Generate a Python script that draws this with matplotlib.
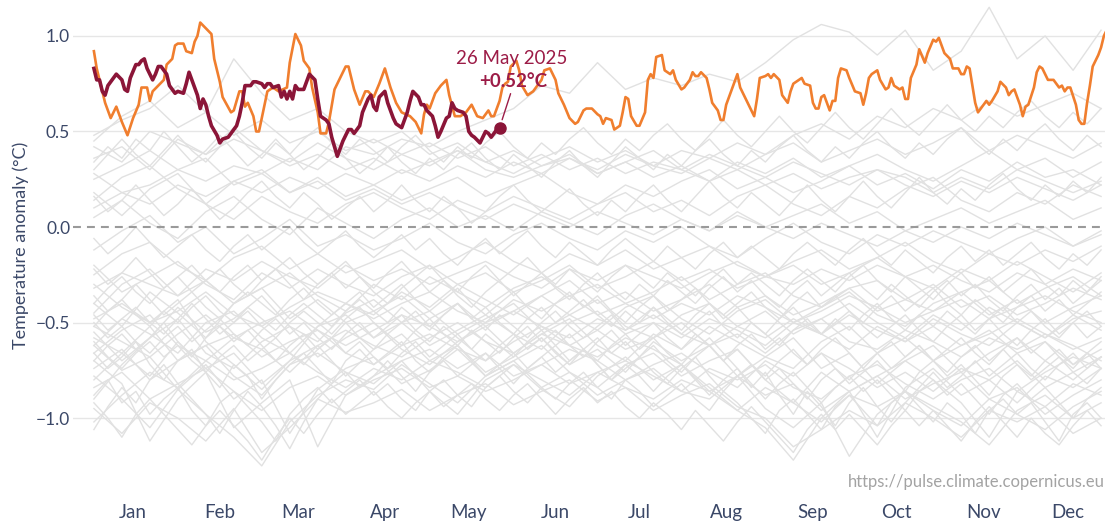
import matplotlib
matplotlib.use("Agg")
import matplotlib.pyplot as plt
import numpy as np

plt.rcParams["font.family"] = ["Lato", "DejaVu Sans"]

# Day-of-year positions (0 = 1 Jan) and labels for the month ticks
month_names = ["Jan", "Feb", "Mar", "Apr", "May", "Jun",
               "Jul", "Aug", "Sep", "Oct", "Nov", "Dec"]
month_mid_days = [14, 45, 73, 104, 134, 165, 195, 226, 257, 287, 318, 348]
y_ticks = [-1.0, -0.5, 0.0, 0.5, 1.0]

# Earlier years (grey spaghetti), estimated; each row spans 1 Jan .. 27 Dec evenly
# (37 values = every 10 days, 73 values = every 5 days)
hist_first_day = 0
hist_last_day = 360
hist_anoms = [
    [-0.95, -1.08, -0.92, -1.00, -1.12, -0.95, -1.18, -1.05, -0.90, -0.97,
     -0.92, -0.85, -0.96, -0.88, -0.82, -0.93, -0.86, -0.80, -0.91, -0.84,
     -0.96, -0.88, -0.82, -0.94, -1.00, -1.15, -1.06, -0.96, -1.04, -0.92,
     -1.00, -1.10, -0.96, -1.02, -0.94, -1.08, -1.00],
    [-0.78, -0.90, -1.05, -0.85, -0.98, -1.10, -1.25, -1.02, -0.88, -0.80,
     -0.85, -0.72, -0.82, -0.92, -0.78, -0.70, -0.84, -0.76, -0.88, -0.80,
     -0.74, -0.86, -0.90, -0.78, -0.95, -1.05, -0.92, -1.20, -0.98, -0.86,
     -0.94, -1.02, -1.14, -0.96, -0.88, -1.00, -0.92],
    [-0.70, -0.82, -1.12, -0.90, -0.76, -1.05, -0.92, -0.80, -1.15, -0.88,
     -0.78, -0.70, -0.86, -0.98, -0.80, -0.72, -0.85, -0.94, -0.78, -0.68,
     -0.80, -0.72, -0.86, -0.78, -0.88, -0.82, -0.96, -0.86, -0.78, -0.90,
     -0.82, -0.76, -0.90, -0.84, -0.98, -0.88, -0.80],
    [-0.62, -0.75, -0.68, -0.85, -0.72, -0.90, -0.80, -1.08, -0.85, -0.74,
     -0.68, -0.82, -0.75, -0.64, -0.78, -0.70, -0.62, -0.76, -0.84, -0.72,
     -0.66, -0.78, -0.70, -0.64, -0.80, -0.92, -0.76, -0.86, -1.10, -0.84,
     -0.74, -0.88, -0.80, -0.70, -0.84, -0.76, -0.68],
    [-0.80, -0.66, -0.78, -0.60, -0.74, -0.66, -0.82, -0.70, -0.62, -0.78,
     -0.64, -0.56, -0.70, -0.62, -0.76, -0.68, -0.58, -0.72, -0.64, -0.76,
     -0.60, -0.70, -0.62, -0.78, -0.68, -0.58, -0.74, -0.66, -0.82, -0.70,
     -0.62, -0.76, -0.66, -0.58, -0.70, -0.80, -0.68],
    [-0.55, -0.70, -0.58, -0.48, -0.66, -0.74, -0.60, -0.52, -0.68, -0.58,
     -0.50, -0.64, -0.72, -0.60, -0.52, -0.66, -0.56, -0.48, -0.62, -0.70,
     -0.56, -0.64, -0.52, -0.60, -0.68, -0.74, -0.60, -0.52, -0.66, -0.58,
     -0.70, -0.62, -0.54, -0.66, -0.60, -0.72, -0.64],
    [-0.62, -0.48, -0.56, -0.66, -0.50, -0.44, -0.58, -0.66, -0.52, -0.46,
     -0.58, -0.50, -0.62, -0.54, -0.46, -0.56, -0.64, -0.50, -0.44, -0.56,
     -0.50, -0.58, -0.48, -0.54, -0.62, -0.50, -0.56, -0.64, -0.52, -0.60,
     -0.48, -0.56, -0.62, -0.50, -0.58, -0.46, -0.54],
    [-0.90, -0.72, -0.58, -0.42, -0.55, -0.48, -0.36, -0.52, -0.60, -0.45,
     -0.38, -0.50, -0.44, -0.56, -0.48, -0.40, -0.54, -0.46, -0.38, -0.52,
     -0.58, -0.46, -0.40, -0.52, -0.44, -0.56, -0.48, -0.40, -0.50, -0.58,
     -0.46, -0.54, -0.42, -0.50, -0.58, -0.48, -0.44],
    [-0.40, -0.52, -0.34, -0.45, -0.58, -0.40, -0.32, -0.48, -0.38, -0.50,
     -0.44, -0.36, -0.48, -0.40, -0.52, -0.44, -0.36, -0.46, -0.54, -0.42,
     -0.36, -0.48, -0.56, -0.44, -0.38, -0.50, -0.42, -0.34, -0.46, -0.52,
     -0.40, -0.34, -0.46, -0.38, -0.50, -0.42, -0.36],
    [-0.30, -0.42, -0.50, -0.38, -0.60, -0.72, -0.85, -0.70, -0.52, -0.40,
     -0.46, -0.34, -0.42, -0.30, -0.38, -0.46, -0.36, -0.28, -0.40, -0.34,
     -0.44, -0.38, -0.30, -0.42, -0.36, -0.46, -0.40, -0.32, -0.44, -0.38,
     -0.30, -0.42, -0.36, -0.46, -0.40, -0.32, -0.38],
    [-0.45, -0.30, -0.22, -0.36, -0.28, -0.40, -0.32, -0.24, -0.36, -0.44,
     -0.30, -0.38, -0.26, -0.34, -0.42, -0.32, -0.26, -0.36, -0.30, -0.40,
     -0.34, -0.26, -0.38, -0.30, -0.24, -0.36, -0.42, -0.32, -0.28, -0.38,
     -0.44, -0.34, -0.28, -0.40, -0.32, -0.26, -0.36],
    [-0.20, -0.34, -0.26, -0.18, -0.30, -0.38, -0.24, -0.32, -0.22, -0.30,
     -0.36, -0.26, -0.20, -0.30, -0.24, -0.34, -0.28, -0.20, -0.32, -0.26,
     -0.18, -0.28, -0.22, -0.32, -0.26, -0.20, -0.30, -0.24, -0.16, -0.26,
     -0.32, -0.22, -0.28, -0.18, -0.26, -0.34, -0.24],
    [-0.25, -0.14, -0.08, -0.20, -0.28, -0.16, -0.10, -0.22, -0.14, -0.24,
     -0.18, -0.12, -0.22, -0.16, -0.08, -0.18, -0.24, -0.14, -0.20, -0.12,
     -0.22, -0.16, -0.10, -0.20, -0.26, -0.18, -0.12, -0.22, -0.16, -0.08,
     -0.18, -0.24, -0.14, -0.20, -0.12, -0.18, -0.10],
    [-0.12, -0.02, 0.06, -0.08, 0.00, -0.14, -0.06, 0.04, -0.10, -0.04,
     -0.12, -0.06, 0.02, -0.08, -0.14, -0.04, 0.02, -0.06, -0.12, -0.02,
     -0.08, 0.00, -0.10, -0.16, -0.06, 0.02, -0.08, -0.14, -0.04, -0.10,
     -0.02, -0.08, -0.14, -0.06, 0.00, -0.10, -0.04],
    [0.05, 0.14, 0.02, -0.06, 0.08, 0.16, 0.04, -0.04, 0.10, 0.02,
     -0.06, 0.04, 0.10, 0.00, 0.06, -0.02, 0.08, 0.02, -0.04, 0.06,
     0.12, 0.04, -0.02, 0.08, 0.00, 0.06, 0.12, 0.02, 0.08, -0.02,
     0.04, 0.10, 0.02, 0.08, 0.14, 0.04, 0.10],
    [0.18, 0.06, 0.20, 0.28, 0.12, 0.04, 0.16, 0.08, 0.02, 0.12,
     0.18, 0.10, 0.04, 0.14, 0.08, 0.16, 0.10, 0.04, 0.12, 0.18,
     0.08, 0.14, 0.06, 0.16, 0.22, 0.12, 0.06, 0.16, 0.10, 0.20,
     0.26, 0.14, 0.08, 0.18, 0.12, 0.22, 0.16],
    [0.14, 0.26, 0.32, 0.20, 0.12, 0.24, 0.30, 0.18, 0.26, 0.16,
     0.22, 0.14, 0.20, 0.26, 0.16, 0.22, 0.28, 0.18, 0.12, 0.22,
     0.16, 0.24, 0.30, 0.20, 0.26, 0.18, 0.24, 0.32, 0.22, 0.28,
     0.20, 0.30, 0.24, 0.34, 0.26, 0.30, 0.22],
    [0.36, 0.42, 0.30, 0.46, 0.38, 0.52, 0.40, 0.34, 0.44, 0.36,
     0.30, 0.38, 0.32, 0.40, 0.34, 0.28, 0.36, 0.42, 0.34, 0.40,
     0.32, 0.28, 0.36, 0.30, 0.38, 0.44, 0.34, 0.40, 0.46, 0.38,
     0.44, 0.52, 0.40, 0.48, 0.42, 0.36, 0.44],
    [0.45, 0.58, 0.66, 0.52, 0.60, 0.48, 0.56, 0.44, 0.50, 0.40,
     0.46, 0.38, 0.44, 0.36, 0.42, 0.32, 0.38, 0.30, 0.36, 0.28,
     0.34, 0.30, 0.38, 0.32, 0.26, 0.34, 0.28, 0.22, 0.30, 0.26,
     0.18, 0.26, 0.20, 0.30, 0.24, 0.18, 0.24],
    [0.48, 0.56, 0.62, 0.74, 0.60, 0.88, 0.70, 0.56, 0.62, 0.50,
     0.44, 0.50, 0.38, 0.44, 0.34, 0.40, 0.32, 0.36, 0.28, 0.34,
     0.26, 0.32, 0.24, 0.30, 0.22, 0.28, 0.20, 0.26, 0.30, 0.22,
     0.16, 0.24, 0.18, 0.26, 0.20, 0.14, 0.22],
    [0.28, 0.18, 0.22, 0.30, 0.24, 0.32, 0.28, 0.36, 0.30, 0.42,
     0.38, 0.46, 0.42, 0.50, 0.56, 0.62, 0.74, 0.70, 0.86, 0.72,
     0.78, 0.74, 0.80, 0.76, 0.86, 0.98, 1.06, 1.02, 0.90, 1.03,
     0.82, 0.92, 1.15, 0.88, 1.00, 0.82, 1.03],
    [0.42, 0.34, 0.50, 0.44, 0.38, 0.46, 0.40, 0.32, 0.38, 0.30,
     0.36, 0.28, 0.34, 0.40, 0.30, 0.26, 0.32, 0.38, 0.28, 0.34,
     0.40, 0.30, 0.24, 0.34, 0.28, 0.36, 0.26, 0.32, 0.38, 0.30,
     0.24, 0.32, 0.40, 0.30, 0.36, 0.26, 0.34],
    [-0.58, -0.66, -0.52, -0.70, -0.62, -0.56, -0.68, -0.60, -0.54, -0.66,
     -0.72, -0.62, -0.56, -0.64, -0.70, -0.60, -0.52, -0.62, -0.68, -0.58,
     -0.64, -0.72, -0.84, -0.96, -1.05, -1.22, -1.00, -0.86, -0.78, -0.70,
     -0.80, -0.92, -1.10, -0.86, -0.76, -0.68, -0.74],
    [-0.74, -0.64, -0.80, -0.70, -0.62, -0.78, -0.88, -0.72, -0.66, -0.76,
     -0.82, -0.70, -0.64, -0.74, -0.66, -0.78, -0.72, -0.64, -0.70, -0.80,
     -0.72, -0.66, -0.76, -0.84, -0.70, -0.78, -0.66, -0.74, -0.84, -0.76,
     -0.86, -0.74, -0.80, -0.92, -0.78, -0.84, -0.74],
    [-0.52, -0.60, -0.68, -0.56, -0.46, -0.58, -0.50, -0.44, -0.54, -0.62,
     -0.54, -0.46, -0.52, -0.60, -0.50, -0.44, -0.52, -0.58, -0.48, -0.54,
     -0.46, -0.56, -0.62, -0.52, -0.58, -0.48, -0.56, -0.46, -0.54, -0.60,
     -0.52, -0.62, -0.56, -0.48, -0.56, -0.64, -0.58],
    [-0.66, -0.54, -0.46, -0.62, -0.70, -0.58, -0.64, -0.76, -0.62, -0.54,
     -0.62, -0.68, -0.58, -0.50, -0.60, -0.66, -0.56, -0.62, -0.54, -0.64,
     -0.58, -0.50, -0.62, -0.56, -0.66, -0.54, -0.48, -0.60, -0.64, -0.54,
     -0.60, -0.68, -0.58, -0.64, -0.56, -0.62, -0.70],
    [-1.02, -0.88, -0.76, -0.84, -0.70, -0.80, -0.74, -0.66, -0.76, -0.84,
     -0.74, -0.80, -0.70, -0.76, -0.84, -0.72, -0.80, -0.88, -0.76, -0.70,
     -0.78, -0.86, -0.74, -0.80, -0.72, -0.84, -0.90, -0.78, -0.72, -0.82,
     -0.90, -0.80, -0.74, -0.86, -0.94, -0.82, -0.88],
    [-0.48, -0.40, -0.50, -0.44, -0.34, -0.46, -0.52, -0.42, -0.34, -0.40,
     -0.48, -0.40, -0.34, -0.44, -0.50, -0.38, -0.44, -0.36, -0.46, -0.40,
     -0.48, -0.40, -0.46, -0.36, -0.42, -0.50, -0.44, -0.36, -0.42, -0.50,
     -0.44, -0.38, -0.48, -0.42, -0.36, -0.44, -0.50],
    [-0.32, -0.24, -0.30, -0.36, -0.22, -0.28, -0.18, -0.26, -0.32, -0.20,
     -0.28, -0.22, -0.30, -0.24, -0.18, -0.26, -0.32, -0.22, -0.28, -0.20,
     -0.26, -0.32, -0.24, -0.18, -0.26, -0.30, -0.22, -0.28, -0.20, -0.26,
     -0.20, -0.28, -0.34, -0.24, -0.30, -0.22, -0.28],
    [0.25, 0.32, 0.40, 0.30, 0.36, 0.22, 0.28, 0.18, 0.24, 0.14,
     0.20, 0.12, 0.18, 0.10, 0.04, 0.12, 0.06, 0.00, 0.08, 0.02,
     -0.04, 0.04, -0.02, 0.06, 0.00, -0.06, 0.02, -0.04, -0.10, -0.02,
     -0.08, 0.00, -0.06, 0.02, -0.04, -0.10, -0.02],
    [-0.84, -0.76, -0.90, -0.82, -0.74, -0.86, -0.96, -0.84, -0.78, -0.88,
     -0.80, -0.74, -0.84, -0.78, -0.86, -0.80, -0.72, -0.82, -0.76, -0.84,
     -0.90, -0.80, -0.86, -0.96, -0.84, -0.92, -1.02, -0.88, -0.94, -0.86,
     -0.96, -1.04, -0.90, -0.98, -1.06, -0.94, -0.86],
    [0.10, 0.18, 0.12, 0.22, 0.16, 0.24, 0.18, 0.26, 0.20, 0.28,
     0.22, 0.30, 0.24, 0.32, 0.26, 0.34, 0.28, 0.36, 0.30, 0.38,
     0.32, 0.40, 0.36, 0.44, 0.38, 0.48, 0.54, 0.46, 0.58, 0.52,
     0.62, 0.56, 0.66, 0.58, 0.64, 0.70, 0.62],
    [-0.88, -0.80, -0.92, -0.86, -0.98, -0.90, -0.84, -0.96, -1.04, -0.92,
     -0.86, -0.94, -1.02, -1.12, -0.98, -0.90, -0.84, -0.92, -0.86, -0.80,
     -0.88, -0.82, -0.90, -0.96, -0.86, -0.80, -0.88, -0.94, -0.84, -0.78,
     -0.86, -0.92, -0.84, -0.90, -0.82, -0.76, -0.84, -0.90, -0.80, -0.86,
     -0.94, -0.88, -0.82, -0.90, -0.96, -0.86, -0.92, -1.00, -1.08, -0.96,
     -0.90, -0.98, -1.06, -0.94, -0.88, -0.96, -1.04, -0.92, -0.86, -0.94,
     -1.02, -0.92, -0.98, -1.08, -0.96, -0.90, -0.98, -0.92, -1.02, -1.12,
     -0.98, -0.92, -1.00],
    [-0.66, -0.74, -0.68, -0.60, -0.72, -0.80, -0.70, -0.64, -0.76, -0.84,
     -0.72, -0.78, -0.90, -0.80, -0.72, -0.66, -0.74, -0.82, -0.70, -0.64,
     -0.72, -0.66, -0.60, -0.70, -0.76, -0.68, -0.62, -0.70, -0.78, -0.72,
     -0.66, -0.74, -0.68, -0.62, -0.70, -0.64, -0.72, -0.80, -0.74, -0.68,
     -0.76, -0.82, -0.74, -0.68, -0.78, -0.86, -0.78, -0.72, -0.80, -0.74,
     -0.82, -0.90, -0.80, -0.74, -0.82, -0.76, -0.70, -0.78, -0.86, -0.76,
     -0.70, -0.78, -0.72, -0.80, -0.88, -0.78, -0.72, -0.80, -0.74, -0.68,
     -0.76, -0.82, -0.74],
    [-0.70, -0.62, -0.56, -0.64, -0.58, -0.50, -0.60, -0.68, -0.58, -0.52,
     -0.60, -0.54, -0.62, -0.70, -0.62, -0.56, -0.64, -0.58, -0.50, -0.58,
     -0.64, -0.56, -0.62, -0.54, -0.48, -0.56, -0.62, -0.54, -0.60, -0.66,
     -0.58, -0.52, -0.60, -0.54, -0.62, -0.68, -0.60, -0.54, -0.62, -0.56,
     -0.50, -0.58, -0.64, -0.56, -0.62, -0.70, -0.62, -0.56, -0.64, -0.58,
     -0.66, -0.72, -0.64, -0.58, -0.66, -0.74, -0.66, -0.60, -0.68, -0.62,
     -0.70, -0.64, -0.58, -0.66, -0.72, -0.64, -0.58, -0.66, -0.60, -0.68,
     -0.74, -0.66, -0.60],
    [-0.46, -0.54, -0.48, -0.42, -0.50, -0.56, -0.48, -0.40, -0.48, -0.56,
     -0.50, -0.44, -0.52, -0.58, -0.50, -0.44, -0.50, -0.56, -0.48, -0.42,
     -0.50, -0.56, -0.50, -0.44, -0.52, -0.46, -0.40, -0.48, -0.54, -0.46,
     -0.52, -0.58, -0.50, -0.44, -0.52, -0.58, -0.52, -0.46, -0.54, -0.48,
     -0.42, -0.50, -0.56, -0.50, -0.44, -0.52, -0.58, -0.50, -0.56, -0.62,
     -0.54, -0.48, -0.56, -0.50, -0.44, -0.52, -0.58, -0.52, -0.46, -0.54,
     -0.60, -0.52, -0.46, -0.54, -0.48, -0.56, -0.62, -0.54, -0.48, -0.56,
     -0.50, -0.58, -0.52],
    [-0.36, -0.44, -0.38, -0.30, -0.38, -0.46, -0.40, -0.34, -0.42, -0.48,
     -0.40, -0.34, -0.40, -0.46, -0.38, -0.32, -0.40, -0.46, -0.40, -0.34,
     -0.42, -0.36, -0.30, -0.38, -0.44, -0.38, -0.32, -0.40, -0.46, -0.40,
     -0.34, -0.42, -0.48, -0.40, -0.34, -0.42, -0.36, -0.44, -0.50, -0.42,
     -0.36, -0.44, -0.38, -0.32, -0.40, -0.46, -0.40, -0.34, -0.42, -0.48,
     -0.40, -0.34, -0.42, -0.36, -0.44, -0.50, -0.42, -0.36, -0.44, -0.38,
     -0.32, -0.40, -0.46, -0.38, -0.44, -0.50, -0.42, -0.36, -0.44, -0.38,
     -0.46, -0.40, -0.34],
    [-0.22, -0.30, -0.24, -0.16, -0.24, -0.32, -0.26, -0.20, -0.28, -0.34,
     -0.26, -0.20, -0.28, -0.22, -0.16, -0.24, -0.30, -0.24, -0.18, -0.26,
     -0.32, -0.24, -0.18, -0.26, -0.20, -0.28, -0.34, -0.26, -0.20, -0.28,
     -0.22, -0.16, -0.24, -0.30, -0.22, -0.28, -0.34, -0.26, -0.20, -0.26,
     -0.32, -0.24, -0.30, -0.36, -0.28, -0.22, -0.30, -0.24, -0.30, -0.36,
     -0.28, -0.22, -0.28, -0.34, -0.26, -0.20, -0.28, -0.34, -0.26, -0.32,
     -0.38, -0.30, -0.24, -0.32, -0.26, -0.34, -0.28, -0.22, -0.30, -0.36,
     -0.28, -0.34, -0.26],
    [-0.06, -0.14, -0.08, 0.00, -0.08, -0.16, -0.10, -0.04, -0.12, -0.18,
     -0.10, -0.04, -0.12, -0.06, 0.00, -0.08, -0.14, -0.08, -0.02, -0.10,
     -0.16, -0.10, -0.04, -0.12, -0.06, -0.14, -0.20, -0.12, -0.06, -0.14,
     -0.08, -0.02, -0.10, -0.16, -0.08, -0.14, -0.20, -0.12, -0.06, -0.12,
     -0.18, -0.10, -0.16, -0.22, -0.14, -0.08, -0.16, -0.10, -0.16, -0.22,
     -0.14, -0.08, -0.14, -0.20, -0.12, -0.06, -0.14, -0.20, -0.12, -0.18,
     -0.24, -0.16, -0.10, -0.18, -0.12, -0.20, -0.14, -0.08, -0.16, -0.22,
     -0.14, -0.20, -0.12],
    [0.16, 0.08, 0.14, 0.22, 0.14, 0.06, 0.12, 0.20, 0.12, 0.04,
     0.10, 0.18, 0.24, 0.16, 0.10, 0.18, 0.12, 0.04, 0.10, 0.16,
     0.08, 0.14, 0.22, 0.14, 0.08, 0.16, 0.10, 0.02, 0.08, 0.16,
     0.22, 0.14, 0.08, 0.14, 0.20, 0.12, 0.06, 0.14, 0.08, 0.16,
     0.22, 0.14, 0.08, 0.16, 0.24, 0.16, 0.10, 0.18, 0.12, 0.06,
     0.14, 0.22, 0.14, 0.08, 0.16, 0.24, 0.16, 0.10, 0.18, 0.26,
     0.18, 0.12, 0.20, 0.14, 0.22, 0.28, 0.20, 0.14, 0.22, 0.16,
     0.24, 0.18, 0.26],
    [0.34, 0.42, 0.36, 0.46, 0.40, 0.50, 0.42, 0.34, 0.40, 0.48,
     0.40, 0.32, 0.38, 0.46, 0.38, 0.30, 0.36, 0.44, 0.36, 0.28,
     0.34, 0.42, 0.34, 0.28, 0.36, 0.30, 0.38, 0.44, 0.36, 0.30,
     0.38, 0.32, 0.26, 0.34, 0.40, 0.32, 0.26, 0.34, 0.42, 0.36,
     0.30, 0.38, 0.32, 0.40, 0.46, 0.38, 0.32, 0.40, 0.34, 0.42,
     0.48, 0.40, 0.34, 0.42, 0.36, 0.44, 0.50, 0.42, 0.36, 0.44,
     0.38, 0.46, 0.52, 0.44, 0.38, 0.46, 0.40, 0.48, 0.54, 0.46,
     0.40, 0.48, 0.42],
    [-1.06, -0.94, -0.84, -0.92, -0.80, -0.72, -0.82, -0.90, -0.98, -1.08,
     -0.96, -0.86, -0.94, -1.04, -1.16, -1.02, -0.90, -0.82, -0.76, -0.84,
     -0.78, -0.70, -0.78, -0.86, -0.76, -0.70, -0.78, -0.72, -0.66, -0.74,
     -0.82, -0.74, -0.68, -0.76, -0.70, -0.64, -0.72, -0.80, -0.72, -0.78,
     -0.86, -0.78, -0.72, -0.80, -0.88, -0.80, -0.74, -0.82, -0.90, -0.82,
     -0.76, -0.84, -0.92, -0.84, -0.78, -0.86, -0.80, -0.88, -0.96, -0.86,
     -0.80, -0.88, -0.82, -0.90, -0.98, -0.88, -0.82, -0.90, -0.84, -0.92,
     -1.00, -0.90, -0.84],
    [-0.50, -0.58, -0.52, -0.60, -0.66, -0.58, -0.52, -0.60, -0.54, -0.48,
     -0.56, -0.62, -0.54, -0.48, -0.56, -0.50, -0.58, -0.64, -0.56, -0.50,
     -0.58, -0.52, -0.46, -0.54, -0.60, -0.52, -0.58, -0.64, -0.56, -0.62,
     -0.68, -0.60, -0.54, -0.62, -0.56, -0.64, -0.70, -0.62, -0.56, -0.64,
     -0.58, -0.66, -0.72, -0.64, -0.58, -0.66, -0.74, -0.84, -0.76, -0.88,
     -0.98, -0.86, -0.94, -1.04, -0.92, -0.84, -0.94, -1.02, -0.92, -0.84,
     -0.76, -0.84, -0.78, -0.70, -0.78, -0.72, -0.66, -0.74, -0.80, -0.72,
     -0.66, -0.74, -0.68],
    [-0.40, -0.32, -0.26, -0.34, -0.40, -0.32, -0.26, -0.34, -0.28, -0.22,
     -0.30, -0.36, -0.28, -0.22, -0.30, -0.38, -0.30, -0.24, -0.32, -0.26,
     -0.34, -0.40, -0.32, -0.26, -0.34, -0.28, -0.36, -0.42, -0.34, -0.28,
     -0.36, -0.30, -0.24, -0.32, -0.38, -0.30, -0.24, -0.32, -0.38, -0.30,
     -0.36, -0.28, -0.34, -0.40, -0.32, -0.26, -0.34, -0.28, -0.36, -0.42,
     -0.34, -0.28, -0.36, -0.30, -0.24, -0.32, -0.38, -0.30, -0.36, -0.42,
     -0.34, -0.28, -0.36, -0.30, -0.38, -0.44, -0.36, -0.30, -0.38, -0.32,
     -0.40, -0.34, -0.28],
    [0.30, 0.38, 0.46, 0.38, 0.32, 0.40, 0.48, 0.40, 0.34, 0.42,
     0.50, 0.42, 0.36, 0.44, 0.38, 0.46, 0.52, 0.44, 0.38, 0.46,
     0.40, 0.34, 0.42, 0.48, 0.40, 0.34, 0.42, 0.36, 0.44, 0.50,
     0.42, 0.36, 0.44, 0.38, 0.46, 0.52, 0.44, 0.38, 0.46, 0.40,
     0.48, 0.54, 0.46, 0.40, 0.48, 0.56, 0.48, 0.42, 0.50, 0.58,
     0.50, 0.44, 0.52, 0.60, 0.52, 0.46, 0.54, 0.62, 0.54, 0.48,
     0.56, 0.64, 0.56, 0.50, 0.58, 0.52, 0.60, 0.66, 0.58, 0.52,
     0.60, 0.54, 0.62],
    [-0.92, -1.00, -1.10, -0.98, -0.90, -0.98, -1.06, -1.14, -1.04, -0.96,
     -1.04, -1.12, -1.22, -1.10, -1.00, -1.08, -0.98, -0.90, -0.98, -0.92,
     -0.86, -0.94, -1.00, -0.92, -0.86, -0.94, -0.88, -0.82, -0.90, -0.96,
     -0.88, -0.82, -0.90, -0.98, -0.90, -0.84, -0.92, -0.86, -0.94, -1.00,
     -0.92, -0.98, -1.06, -0.96, -1.04, -1.12, -1.02, -0.94, -1.02, -1.10,
     -1.18, -1.06, -0.98, -1.06, -0.98, -1.06, -1.14, -1.04, -0.96, -1.04,
     -0.96, -1.04, -1.12, -1.02, -0.94, -1.02, -1.10, -1.00, -1.08, -1.14,
     -1.04, -0.96, -1.04],
    [-0.52, -0.44, -0.38, -0.46, -0.52, -0.44, -0.50, -0.42, -0.36, -0.44,
     -0.50, -0.42, -0.48, -0.54, -0.46, -0.40, -0.46, -0.52, -0.44, -0.38,
     -0.44, -0.50, -0.42, -0.48, -0.54, -0.46, -0.40, -0.48, -0.42, -0.50,
     -0.56, -0.48, -0.42, -0.50, -0.44, -0.38, -0.46, -0.52, -0.44, -0.50,
     -0.42, -0.48, -0.54, -0.46, -0.40, -0.48, -0.42, -0.50, -0.56, -0.48,
     -0.42, -0.50, -0.56, -0.48, -0.54, -0.46, -0.40, -0.48, -0.54, -0.46,
     -0.52, -0.44, -0.50, -0.56, -0.48, -0.42, -0.50, -0.44, -0.52, -0.58,
     -0.50, -0.44, -0.52],
    [-0.60, -0.68, -0.74, -0.66, -0.60, -0.68, -0.62, -0.70, -0.76, -0.68,
     -0.62, -0.70, -0.64, -0.58, -0.66, -0.72, -0.64, -0.58, -0.66, -0.60,
     -0.68, -0.74, -0.66, -0.60, -0.68, -0.62, -0.56, -0.64, -0.70, -0.62,
     -0.56, -0.64, -0.58, -0.66, -0.72, -0.64, -0.58, -0.66, -0.60, -0.68,
     -0.62, -0.70, -0.76, -0.68, -0.62, -0.70, -0.64, -0.72, -0.78, -0.70,
     -0.64, -0.72, -0.66, -0.74, -0.80, -0.72, -0.66, -0.74, -0.68, -0.62,
     -0.70, -0.76, -0.68, -0.62, -0.70, -0.64, -0.72, -0.78, -0.70, -0.64,
     -0.72, -0.66, -0.74],
]

# 2024 (orange)
days_2024 = [
    0, 1, 3, 4, 6, 8, 10, 12, 14, 16, 17, 19, 20, 21, 23, 25, 26, 28, 29, 30,
    32, 33, 35, 36, 37, 38, 40, 42, 43, 45, 46, 49, 50, 52, 53, 54, 55, 57, 58, 59,
    61, 62, 64, 66, 69, 70, 72, 74, 75, 77, 78, 80, 81, 83, 84, 86, 88, 90, 91, 93,
    95, 97, 98, 100, 102, 104, 106, 108, 110, 113, 115, 117, 118, 119, 120, 122, 124, 126, 127, 129,
    131, 133, 135, 137, 139, 141, 142, 143, 145, 146, 147, 148, 149, 151, 152, 153, 155, 157, 158, 160,
    161, 163, 165, 166, 168, 170, 172, 173, 175, 176, 178, 180, 181, 182, 183, 185, 186, 188, 189, 190,
    191, 192, 194, 195, 197, 198, 199, 200, 201, 203, 204, 206, 207, 208, 210, 211, 213, 214, 215, 216,
    217, 219, 220, 221, 223, 224, 225, 226, 228, 230, 231, 233, 235, 236, 237, 238, 240, 241, 242, 243,
    245, 246, 248, 249, 250, 252, 253, 254, 256, 257, 258, 259, 260, 261, 263, 264, 265, 266, 267, 269,
    270, 272, 274, 275, 276, 277, 278, 280, 281, 283, 284, 285, 286, 288, 289, 290, 291, 292, 294, 295,
    297, 298, 300, 301, 302, 303, 304, 306, 307, 309, 310, 311, 312, 313, 314, 315, 316, 317, 319, 320,
    321, 323, 324, 326, 327, 328, 329, 331, 332, 333, 334, 336, 337, 338, 339, 341, 342, 343, 344, 345,
    346, 347, 348, 349, 351, 352, 353, 354, 355, 356, 357, 359, 360, 361, 363,
]
anom_2024 = [
    0.92, 0.83, 0.71, 0.65, 0.57, 0.63, 0.55, 0.48, 0.57, 0.64, 0.73, 0.73, 0.66, 0.71, 0.74, 0.77, 0.85, 0.88, 0.95, 0.96,
    0.96, 0.92, 0.91, 0.97, 1.00, 1.07, 1.04, 1.01, 0.88, 0.76, 0.68, 0.60, 0.61, 0.71, 0.71, 0.63, 0.65, 0.58, 0.50, 0.50,
    0.64, 0.71, 0.73, 0.71, 0.73, 0.86, 1.01, 0.95, 0.87, 0.83, 0.73, 0.60, 0.49, 0.49, 0.55, 0.72, 0.78, 0.84, 0.84, 0.72,
    0.64, 0.71, 0.71, 0.68, 0.75, 0.83, 0.73, 0.65, 0.60, 0.58, 0.55, 0.49, 0.59, 0.64, 0.62, 0.70, 0.74, 0.77, 0.69, 0.58,
    0.58, 0.60, 0.64, 0.58, 0.57, 0.61, 0.58, 0.58, 0.66, 0.73, 0.75, 0.76, 0.84, 0.87, 0.82, 0.74, 0.69, 0.71, 0.73, 0.77,
    0.82, 0.83, 0.77, 0.70, 0.64, 0.57, 0.54, 0.55, 0.61, 0.62, 0.62, 0.59, 0.58, 0.54, 0.57, 0.56, 0.51, 0.53, 0.60, 0.68,
    0.67, 0.58, 0.53, 0.53, 0.60, 0.77, 0.80, 0.78, 0.89, 0.90, 0.82, 0.80, 0.82, 0.77, 0.72, 0.73, 0.77, 0.81, 0.79, 0.79,
    0.81, 0.78, 0.72, 0.65, 0.61, 0.56, 0.56, 0.64, 0.72, 0.80, 0.73, 0.67, 0.61, 0.58, 0.67, 0.78, 0.79, 0.80, 0.78, 0.80,
    0.77, 0.69, 0.65, 0.71, 0.75, 0.77, 0.78, 0.75, 0.74, 0.65, 0.62, 0.62, 0.68, 0.69, 0.61, 0.66, 0.66, 0.78, 0.83, 0.82,
    0.78, 0.71, 0.70, 0.64, 0.70, 0.78, 0.80, 0.82, 0.77, 0.72, 0.73, 0.78, 0.74, 0.72, 0.73, 0.67, 0.67, 0.78, 0.85, 0.93,
    0.86, 0.91, 0.98, 0.97, 0.99, 0.95, 0.91, 0.88, 0.83, 0.83, 0.80, 0.80, 0.84, 0.83, 0.74, 0.65, 0.60, 0.62, 0.66, 0.64,
    0.66, 0.71, 0.76, 0.73, 0.69, 0.71, 0.72, 0.64, 0.58, 0.63, 0.64, 0.73, 0.81, 0.84, 0.83, 0.77, 0.77, 0.77, 0.75, 0.73,
    0.74, 0.71, 0.73, 0.73, 0.64, 0.56, 0.54, 0.54, 0.65, 0.74, 0.84, 0.90, 0.94, 1.00, 1.06,
]

# 2025 so far (dark red), up to 26 May
days_2025 = [
    0, 1, 2, 3, 4, 5, 7, 8, 10, 11, 12, 13, 15, 16, 17, 18, 19, 21, 22, 23,
    24, 26, 27, 29, 30, 32, 33, 34, 35, 37, 38, 39, 40, 41, 42, 44, 45, 46, 48, 49,
    51, 52, 53, 54, 56, 57, 58, 60, 61, 62, 63, 64, 66, 67, 68, 69, 70, 71, 72, 73,
    75, 76, 77, 79, 80, 81, 83, 84, 85, 86, 87, 89, 91, 92, 93, 95, 96, 98, 99, 100,
    101, 102, 104, 105, 107, 108, 110, 112, 113, 114, 116, 117, 118, 119, 121, 122, 123, 124, 126, 127,
    128, 129, 130, 132, 133, 134, 135, 136, 138, 139, 140, 141, 142, 144, 145,
]
anom_2025 = [
    0.83, 0.77, 0.77, 0.71, 0.69, 0.74, 0.78, 0.80, 0.77, 0.72, 0.71, 0.78, 0.85, 0.85, 0.87, 0.88, 0.83, 0.77, 0.80, 0.84,
    0.84, 0.80, 0.74, 0.70, 0.71, 0.70, 0.75, 0.81, 0.77, 0.69, 0.62, 0.67, 0.64, 0.58, 0.53, 0.48, 0.44, 0.46, 0.47, 0.49,
    0.53, 0.58, 0.65, 0.74, 0.74, 0.76, 0.76, 0.75, 0.73, 0.75, 0.75, 0.73, 0.74, 0.68, 0.71, 0.67, 0.71, 0.67, 0.74, 0.72,
    0.72, 0.76, 0.80, 0.77, 0.67, 0.58, 0.56, 0.54, 0.47, 0.42, 0.37, 0.45, 0.51, 0.51, 0.49, 0.53, 0.60, 0.67, 0.69, 0.63,
    0.61, 0.68, 0.71, 0.65, 0.57, 0.54, 0.52, 0.60, 0.66, 0.71, 0.68, 0.64, 0.64, 0.61, 0.58, 0.53, 0.47, 0.50, 0.57, 0.58,
    0.65, 0.62, 0.61, 0.60, 0.58, 0.50, 0.48, 0.47, 0.44, 0.47, 0.50, 0.49, 0.47, 0.51, 0.52,
]

latest_label = "26 May 2025"
latest_value = "+0.52°C"

text_color = "#3b4868"
grey_color = "#e1e1e1"
orange_color = "#f07e2e"
red_color = "#8b1538"
annot_color = "#9c1c47"

fig = plt.figure(figsize=(11.05, 5.22), dpi=100)
ax = fig.add_axes([0.066, 0.061, 0.934, 0.939])

for row in hist_anoms:
    ax.plot(np.linspace(hist_first_day, hist_last_day, len(row)), row,
            color=grey_color, linewidth=1.0, zorder=1)

for y in [-1.0, -0.5, 0.5, 1.0]:
    ax.axhline(y, color="#e6e6e6", linewidth=1.0, zorder=0)
ax.axhline(0.0, color="#9a9a9a", linewidth=1.5, linestyle=(0, (3.8, 2.9)), zorder=2)

ax.plot(days_2024, anom_2024, color=orange_color, linewidth=1.9, zorder=3)
ax.plot(days_2025, anom_2025, color=red_color, linewidth=2.6, zorder=4,
        solid_joinstyle="round")
ax.plot(days_2025[-1], anom_2025[-1], "o", color=red_color, markersize=8, zorder=5)

# Leader line and label for the latest value
ax.annotate("", xy=(days_2025[-1], anom_2025[-1]), xytext=(11, 34),
            textcoords="offset pixels",
            arrowprops=dict(arrowstyle="-", color=annot_color, lw=1.0,
                            shrinkA=0, shrinkB=6))
ax.annotate(latest_label, xy=(days_2025[-1], anom_2025[-1]), xytext=(12, 69),
            textcoords="offset pixels", ha="center", va="center",
            fontsize=13.5, color=annot_color)
ax.annotate(latest_value, xy=(days_2025[-1], anom_2025[-1]), xytext=(14, 46),
            textcoords="offset pixels", ha="center", va="center",
            fontsize=13.5, color=annot_color, fontweight="bold")

ax.set_xlim(-7.5, 361.4)
ax.set_ylim(-1.377, 1.188)
ax.set_xticks(month_mid_days)
ax.set_xticklabels(month_names)
ax.set_yticks(y_ticks)
ax.set_yticklabels([f"{v:.1f}".replace("-", "\u2212") for v in y_ticks])
ax.tick_params(axis="both", length=0, colors=text_color)
ax.tick_params(axis="x", labelsize=13.5, pad=10)
ax.tick_params(axis="y", labelsize=12.5, pad=2)
for spine in ax.spines.values():
    spine.set_visible(False)

ax.set_ylabel("Temperature anomaly (°C)", fontsize=13, color=text_color, labelpad=5)

fig.text(0.9995, 0.077, "https://pulse.climate.copernicus.eu", ha="right", va="center",
         fontsize=12, color="#a3a3a3")

fig.savefig("out.png", dpi=100)
